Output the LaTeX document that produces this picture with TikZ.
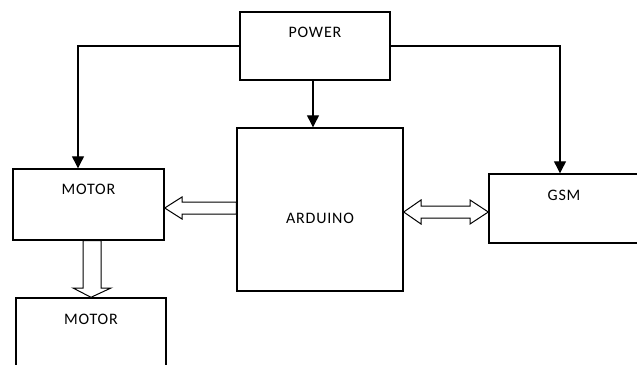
\documentclass[tikz,border=0pt]{standalone}
\usepackage{fontspec}
\setmainfont{Carlito}[LetterSpace=5]
\usetikzlibrary{arrows.meta}
\tikzset{
  box/.style={draw, line width=1.4pt, inner sep=0pt},
  lbl/.style={anchor=base, inner sep=0pt, font=\fontsize{16}{19}\selectfont},
  pwr/.style={line width=1.2pt, -{Triangle[width=12pt,length=12pt]}},
  blk/.style={draw, line width=1pt, fill=white, line join=miter}
}
\begin{document}
\begin{tikzpicture}[x=1pt,y=-1pt]
\useasboundingbox (0,0) rectangle (637,364);
\node[box, minimum width=150pt, minimum height=68pt] (power) at (315,46) {};
\node[box, minimum width=166pt, minimum height=163pt] (arduino) at (320,209.5) {};
\node[box, minimum width=151pt, minimum height=71pt] (motor) at (88.5,204.5) {};
\node[box, minimum width=150pt, minimum height=69pt] (gsm) at (564,208.5) {};
\node[box, minimum width=150pt, minimum height=70pt] (motorb) at (91,333) {};
\node[lbl] (powertxt) at ([yshift=-26pt]power.north) {POWER};
\node[lbl] (arduinotxt) at ([yshift=-13.5pt]arduino.center) {ARDUINO};
\node[lbl] (motortxt) at ([yshift=-26pt]motor.north) {MOTOR};
\node[lbl] (gsmtxt) at ([yshift=-27pt]gsm.north) {GSM};
\node[lbl] (motorbtxt) at ([yshift=-27pt]motorb.north) {MOTOR};
% power lines
\draw[pwr] (power.west) -| ([xshift=-10.5pt]motor.north);
\draw[pwr] (power.east) -| ([xshift=-4pt]gsm.north);
\draw[pwr] ([xshift=-2pt]power.south) -- ([xshift=-7pt]arduino.north);
% block arrows
\draw[blk] (arduino.west |- 0,202) -- (182,202) -- (182,197) -- (motor.east |- 0,208)
  -- (182,219) -- (182,214) -- (arduino.west |- 0,214) -- cycle;
\draw[blk] (83,0 |- motor.south) -- (83,288) -- (73,288) -- (motorb.north)
  -- (111,288) -- (101,288) -- (101,0 |- motor.south) -- cycle;
\draw[blk] (arduino.east |- 0,212) -- (421,200) -- (421,206) -- (470,206) -- (470,200)
  -- (gsm.west |- 0,212) -- (470,224) -- (470,218) -- (421,218) -- (421,224) -- cycle;
\end{tikzpicture}
\end{document}
